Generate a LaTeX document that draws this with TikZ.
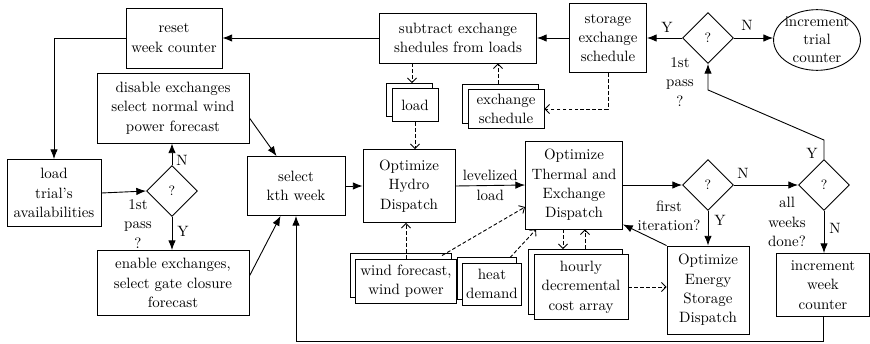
\documentclass[tikz,border=0pt]{standalone}
\usetikzlibrary{arrows.meta,calc,positioning,shapes.geometric,shadows}

\begin{document}
\begin{tikzpicture}[x=0.0235cm,y=-0.0235cm,line width=0.6pt,
  every node/.style={font=\fontsize{10}{13}\selectfont},
  box/.style 2 args={draw,align=center,inner sep=1pt,minimum width=#1*0.0235cm,minimum height=#2*0.0235cm},
  stack/.style 2 args={box={#1}{#2},fill=white,copy shadow={shadow xshift=-0.12cm,shadow yshift=0.12cm}},
  quest/.style={draw,diamond,aspect=1,inner sep=0pt,minimum size=51*0.0235cm,font=\small},
  arr/.style={-{Latex[length=6.5pt,width=5pt]}},
  darr/.style={dash pattern=on 2.5pt off 1.5pt,-{Straight Barb[length=3pt,width=6pt]}}]
  \useasboundingbox (0,0) rectangle (870,343);
  % left column
  \node[box={96}{60}] (reset) at (174,38) {reset\\week counter};
  \node[box={152}{70}] (disable) at (173,108) {disable exchanges\\select normal wind\\power forecast};
  \node[box={94}{67}] (trial) at (54,193) {load\\trial's\\availabilities};
  \node[quest] (qa) at (172,191) {?};
  \node[box={152}{65}] (enable) at (173,283) {enable exchanges,\\select gate closure\\forecast};
  \node[box={98}{59}] (select) at (296,186) {select\\kth week};
  % dispatch chain
  \node[box={92}{73}] (hydro) at (409,186) {Optimize\\Hydro\\Dispatch};
  \node[box={97}{88}] (thermal) at (574,185) {Optimize\\Thermal and\\Exchange\\Dispatch};
  \node[box={157}{50}] (subtr) at (458,38) {subtract exchange\\shedules from loads};
  \node[stack={46}{33}] (ld) at (415,105) {load};
  \node[stack={76}{39}] (exch) at (506,109) {exchange\\schedule};
  \node[stack={101}{44}] (wind) at (406,281) {wind forecast,\\wind power};
  \node[stack={59}{42}] (heat) at (492,284) {heat\\demand};
  \node[stack={94}{65}] (hrly) at (581,287) {hourly\\decremental\\cost array};
  % right part
  \node[box={77}{69}] (storex) at (608,38) {storage\\exchange\\schedule};
  \node[quest] (qtop) at (708,38) {?};
  \node[draw,ellipse,align=center,inner xsep=-1pt,inner ysep=-1pt,font=\fontsize{10}{12}\selectfont] (trialc) at (817,40) {increment\\trial\\counter};
  \node[quest] (qiter) at (708,185) {?};
  \node[quest] (qweek) at (824,185) {?};
  \node[box={82}{88}] (esd) at (708,290) {Optimize\\Energy\\Storage\\Dispatch};
  \node[box={93}{63}] (incweek) at (823,285) {increment\\week\\counter};
  % labels
  \node (na) at (182,160) {N}; \node (ya) at (183,231) {Y};
  \node[align=center] (pa) at (138,224) {1st\\pass\\?};
  \node (yt) at (667,27) {Y}; \node (nt) at (747,25) {N};
  \node[align=center] (pt) at (680,82) {1st\\pass\\?};
  \node (ni) at (743,173) {N}; \node (yi) at (720,220) {Y};
  \node[align=center] (fi) at (669,216) {first\\iteration?};
  \node (yw) at (812,153) {Y}; \node (nw) at (835,228) {N};
  \node[align=center] (aw) at (787,222) {all\\weeks\\done?};
  % solid flow
  \draw[arr] (reset.west) -| (trial.north);
  \draw[arr] (trial.east) -- (qa.west);
  \draw[arr] (qa.north) -- (qa.north |- disable.south);
  \draw[arr] (qa.south) -- (qa.south |- enable.north);
  \draw[arr] ($(disable.east)+(0,10)$) -- ($(select.north west)+(30,0)$);
  \draw[arr] ($(enable.east)+(0,-7)$) -- ($(select.south west)+(34,0)$);
  \draw[arr] (select.east) -- (hydro.west);
  \draw[arr] (hydro.east) -- node[align=center] (lev) {levelized\\load} (thermal.west);
  \draw[arr] (thermal.east) -- (qiter.west);
  \draw[arr] (qiter.south) -- (esd.north);
  \draw[arr] (esd.north west) -- ($(thermal.south east)+(0,-5)$);
  \draw[arr] (qiter.east) -- (qweek.west);
  \draw[arr] (qweek.south) -- (qweek.south |- incweek.north);
  \draw[arr] (qweek.north) -- ++(0,-19) -- ($(qtop.south)+(0,26)$) -- (qtop.south);
  \draw[arr] (incweek.south) -- ++(0,24) -| (select.south);
  \draw[arr] (qtop.west) -- (storex.east);
  \draw[arr] (qtop.east) -- (qtop.east -| trialc.west);
  \draw[arr] (storex.west) -- (subtr.east);
  \draw[arr] (subtr.west) -- (reset.east);
  % data flow
  \coordinate (ldtop) at ($(ld.north)+(-3,-5)$);
  \draw[darr] (ldtop |- subtr.south) -- (ldtop);
  \draw[darr] (ld.south) -- (ld.south |- hydro.north);
  \coordinate (extop) at ($(exch.north)+(-8,-5)$);
  \draw[darr] (extop) -- (extop |- subtr.south);
  \draw[darr] (storex.south) |- (exch.east);
  \draw[darr] (wind.north) -- (wind.north |- hydro.south);
  \draw[darr] ($(wind.north)+(36,-3)$) -- ($(thermal.west)+(0,22)$);
  \draw[darr] ($(heat.north)+(18,-5)$) -- ($(thermal.south west)+(11,0)$);
  \coordinate (hdn) at ($(hrly.north)+(-18,-5)$);
  \coordinate (hup) at ($(hrly.north)+(4,-5)$);
  \draw[darr] (hdn |- thermal.south) -- (hdn);
  \draw[darr] (hup) -- (hup |- thermal.south);
  \draw[darr] (hrly.east) -- (hrly.east -| esd.west);
\end{tikzpicture}
\end{document}
